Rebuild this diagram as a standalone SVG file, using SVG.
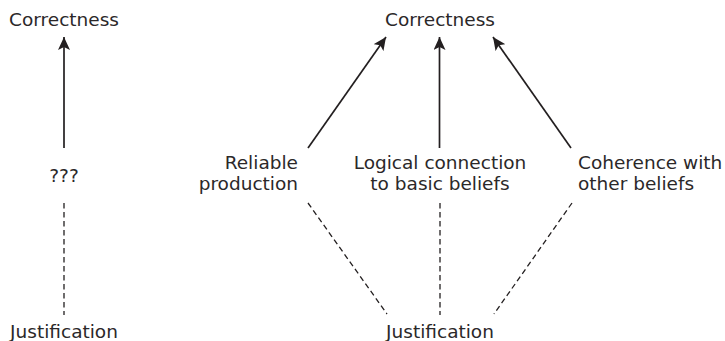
<svg xmlns="http://www.w3.org/2000/svg" width="725" height="341" viewBox="0 0 725 341">
  <style>
    text { font-family: "DejaVu Sans", "Liberation Sans", sans-serif; font-size: 18.5px; fill: #2b2829; }
    .mid { text-anchor: middle; }
    .end { text-anchor: end; }
    .solid { stroke: #231f20; stroke-width: 1.7; fill: none; }
    .dash { stroke: #231f20; stroke-width: 1.3; fill: none; stroke-dasharray: 5.5 3.5; }
  </style>
  <defs>
    <marker id="head" viewBox="0 0 14 12" refX="13" refY="6" markerWidth="14" markerHeight="12" markerUnits="userSpaceOnUse" orient="auto">
      <path d="M0,0 L13,6 L0,12 L3,6 Z" fill="#231f20"/>
    </marker>
  </defs>

  <!-- left: direct link -->
  <g id="correctness-left"><text class="mid" x="64" y="26">Correctness</text></g>
  <g id="unknown"><text class="mid" x="64" y="182">???</text></g>
  <g id="justification-left"><text class="mid" x="64" y="338">Justification</text></g>

  <!-- right: three theories -->
  <g id="correctness-right"><text class="mid" x="440" y="26">Correctness</text></g>
  <g id="reliable">
    <text class="end" x="298" y="169">Reliable</text>
    <text class="end" x="298" y="190">production</text>
  </g>
  <g id="logical">
    <text class="mid" x="440" y="169">Logical connection</text>
    <text class="mid" x="440" y="190">to basic beliefs</text>
  </g>
  <g id="coherence">
    <text x="578" y="169">Coherence with</text>
    <text x="578" y="190">other beliefs</text>
  </g>
  <g id="justification-right"><text class="mid" x="440" y="338">Justification</text></g>

  <g id="connectors">
    <line class="solid" x1="64" y1="148" x2="64" y2="37" marker-end="url(#head)"/>
    <line class="dash" x1="64" y1="203" x2="64" y2="315"/>

    <line class="solid" x1="308" y1="148" x2="386" y2="37" marker-end="url(#head)"/>
    <line class="solid" x1="439.5" y1="148" x2="439.5" y2="37" marker-end="url(#head)"/>
    <line class="solid" x1="571" y1="148" x2="493" y2="37" marker-end="url(#head)"/>

    <line class="dash" x1="308" y1="203" x2="387" y2="314"/>
    <line class="dash" x1="440" y1="203" x2="440" y2="315"/>
    <line class="dash" x1="572" y1="203" x2="494" y2="314"/>
  </g>
</svg>
